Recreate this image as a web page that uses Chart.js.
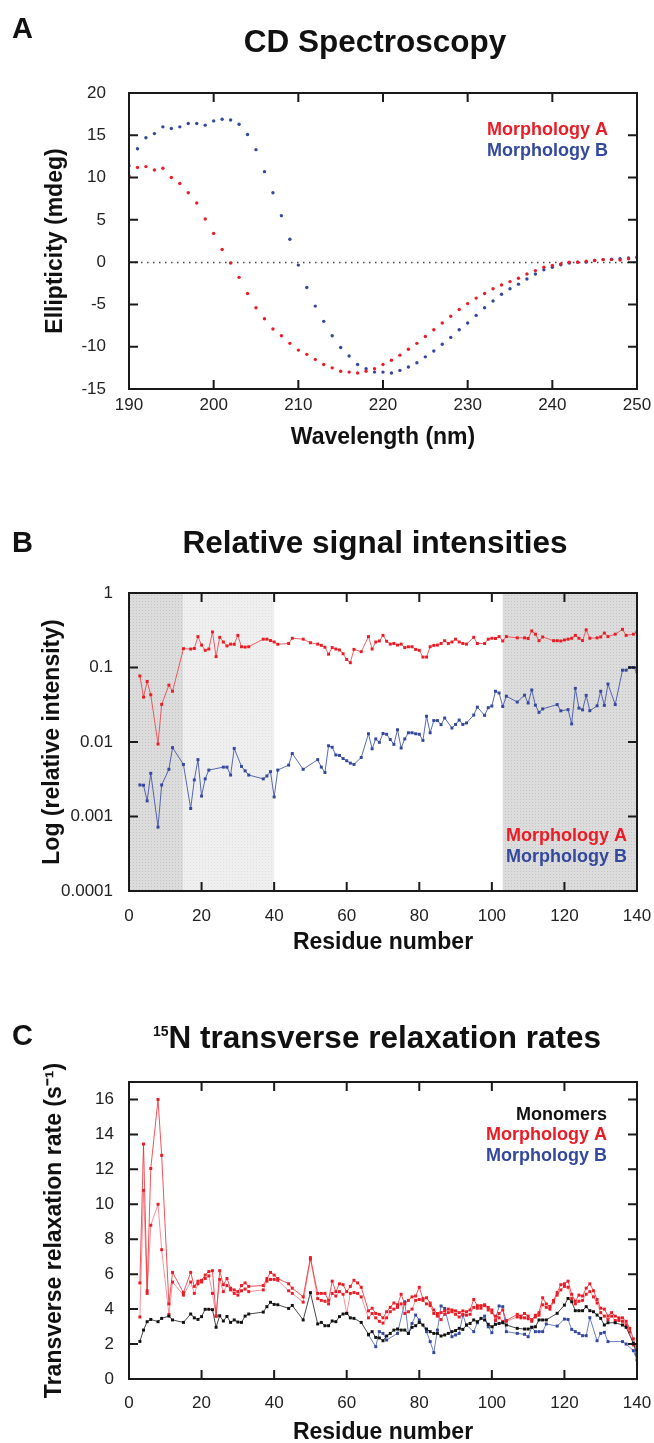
<!DOCTYPE html>
<html>
<head>
<meta charset="utf-8">
<script src="https://cdn.jsdelivr.net/npm/chart.js@4.4.0/dist/chart.umd.min.js"></script>
<style>
  html, body { margin: 0; padding: 0; background: #fff; overflow: hidden; }
  #page { position: relative; width: 654px; height: 1443px; overflow: hidden;
          font-family: "Liberation Sans", Arial, sans-serif; color: #111; }
  .panel { position: absolute; left: 0; }
  .letter { position: absolute; left: 12px; font-weight: bold; font-size: 29px; line-height: 1; }
  .title { position: absolute; left: 375px; transform: translateX(-50%); white-space: nowrap;
           font-weight: bold; font-size: 31.5px; line-height: 1; }
  .title .sup { position: relative; top: -12px; font-size: 14px; }
</style>
</head>
<body>
<div id="page">
  <canvas class="panel" id="cdChart" width="654" height="480" style="top:0"></canvas>
  <canvas class="panel" id="intChart" width="654" height="480" style="top:480px"></canvas>
  <canvas class="panel" id="r2Chart" width="654" height="490" style="top:960px"></canvas>

  <div class="letter" style="top:14px">A</div>
  <div class="title" style="top:26px">CD Spectroscopy</div>
  <div class="letter" style="top:528px">B</div>
  <div class="title" style="top:527px">Relative signal intensities</div>
  <div class="letter" style="top:1021px">C</div>
  <div class="title" style="top:1022px;left:377px"><span class="sup">15</span>N transverse relaxation rates</div>
</div>
<script>
//========== data: CD spectra ==========//
const cdWavelengths = [190, 191, 192, 193, 194, 195, 196, 197, 198, 199,
    200, 201, 202, 203, 204, 205, 206, 207, 208, 209,
    210, 211, 212, 213, 214, 215, 216, 217, 218, 219,
    220, 221, 222, 223, 224, 225, 226, 227, 228, 229,
    230, 231, 232, 233, 234, 235, 236, 237, 238, 239,
    240, 241, 242, 243, 244, 245, 246, 247, 248, 249, 250];
const cdMorphA = [10.2, 11.2, 11.3, 10.9, 11.1, 10.0, 9.3, 8.2, 7.0, 5.1,
    3.4, 1.5, -0.1, -1.8, -3.7, -5.4, -6.7, -7.9, -8.7, -9.6,
    -10.4, -10.9, -11.5, -12.1, -12.5, -12.9, -13.0, -13.1, -12.9, -12.6,
    -12.1, -11.6, -11.0, -10.3, -9.6, -8.8, -8.0, -7.2, -6.4, -5.6,
    -4.9, -4.25, -3.7, -3.15, -2.7, -2.3, -1.9, -1.4, -1.0, -0.6,
    -0.4, -0.2, 0.0, 0.0, 0.1, 0.2, 0.3, 0.3, 0.25, 0.4, 0.6];
const cdMorphB = [11.4, 13.4, 14.7, 15.2, 16.0, 15.8, 16.0, 16.4, 16.4, 16.2,
    16.7, 16.9, 16.8, 16.3, 15.1, 13.3, 10.7, 8.2, 5.5, 2.7,
    -0.35, -3.0, -5.2, -7.0, -8.7, -10.1, -11.1, -12.1, -12.6, -13.0,
    -13.0, -13.1, -12.8, -12.4, -11.9, -11.2, -10.5, -9.7, -8.9, -8.0,
    -7.2, -6.3, -5.4, -4.6, -3.8, -3.15, -2.6, -2.0, -1.4, -0.9,
    -0.6, -0.3, -0.1, 0.0, 0.0, 0.2, 0.3, 0.35, 0.4, 0.5, 0.55];
const cdZero = 0;

//========== data: relative intensities ==========//
const intResA = [3, 4, 5, 6, 8, 9, 11, 12,
    15, 17, 18, 19, 20, 21, 22, 23, 24, 25, 26, 27, 28, 29, 30, 31, 32, 33,
    37, 38, 39, 40, 41, 44, 45, 48, 50,
    52, 53, 54, 55, 56, 57, 58, 59, 60, 61, 62, 64,
    66, 67, 68, 69, 70, 71, 72, 73, 74, 75, 76, 77, 78, 79, 80,
    81, 82, 83, 84, 85, 86, 87, 88, 89, 90, 91, 92, 93, 95, 96,
    98, 99, 100, 101, 102, 103, 104, 107,
    109, 110, 111, 112, 113, 114,
    117, 118, 119, 120, 121, 122, 123, 124, 125, 126, 127,
    129, 130, 131, 132, 134, 136, 137, 139, 140];
const intValA = [0.077, 0.040, 0.065, 0.043, 0.0094, 0.032, 0.058, 0.048,
    0.179, 0.177, 0.18, 0.26, 0.20, 0.17, 0.177, 0.30, 0.14, 0.254, 0.22, 0.195, 0.206, 0.205, 0.27, 0.19, 0.188, 0.19,
    0.24, 0.24, 0.23, 0.22, 0.205, 0.21, 0.247, 0.24, 0.215,
    0.206, 0.198, 0.187, 0.151, 0.185, 0.177, 0.172, 0.153, 0.128, 0.116, 0.175, 0.163,
    0.26, 0.177, 0.22, 0.227, 0.27, 0.225, 0.206, 0.21, 0.2, 0.206, 0.185, 0.19, 0.19, 0.175, 0.17,
    0.138, 0.138, 0.19, 0.198, 0.2, 0.21, 0.229, 0.21, 0.22, 0.24, 0.22, 0.21, 0.206, 0.254, 0.21,
    0.21, 0.24, 0.247, 0.245, 0.26, 0.227, 0.26, 0.25,
    0.25, 0.245, 0.31, 0.28, 0.229, 0.257,
    0.229, 0.229, 0.227, 0.234, 0.24, 0.247, 0.27, 0.247, 0.23, 0.32, 0.247,
    0.25, 0.257, 0.29, 0.26, 0.28, 0.325, 0.27, 0.28, 0.30];
const intResB = [3, 4, 5, 6, 8, 9, 11, 12,
    15, 17, 18, 19, 20, 21, 22, 26, 27, 28, 29, 31, 32, 33,
    37, 38, 39, 40, 41, 44, 45, 48,
    52, 53, 54, 55, 56, 57, 58, 59, 60, 61, 62, 64,
    66, 67, 68, 69, 70, 71, 72, 73, 74, 75, 76, 77, 78, 79, 80,
    81, 82, 83, 84, 85, 86, 87, 89, 90, 91, 92, 93, 95, 96,
    98, 99, 100, 101, 102, 103, 104, 107,
    109, 110, 111, 112, 113, 114, 118, 119,
    121, 122, 123, 124, 125, 126, 127,
    129, 130, 131, 132, 134, 136, 137, 138, 139, 140];
const intValB = [0.00265, 0.00263, 0.00162, 0.0038, 0.00072, 0.00265, 0.0043, 0.0084,
    0.005, 0.00128, 0.0031, 0.0058, 0.00188, 0.0032, 0.0042, 0.0046, 0.0046, 0.0036, 0.0082, 0.0047, 0.0041, 0.0036,
    0.0032, 0.0035, 0.0040, 0.00183, 0.0042, 0.0049, 0.0070, 0.0043,
    0.0058, 0.0046, 0.0039, 0.0089, 0.0085, 0.0067, 0.0066, 0.0060, 0.0056, 0.0052, 0.0050, 0.0062,
    0.0129, 0.0081, 0.011, 0.0099, 0.013, 0.0127, 0.0108, 0.0093, 0.0146, 0.0083, 0.011, 0.0133, 0.0133, 0.0129, 0.0127,
    0.0105, 0.0222, 0.0133, 0.0194, 0.0194, 0.0171, 0.021, 0.0154, 0.0172, 0.0197, 0.0172, 0.0180, 0.023, 0.0294,
    0.0228, 0.0289, 0.0304, 0.048, 0.0455, 0.0300, 0.0412, 0.0344,
    0.0425, 0.0334, 0.0499, 0.0312, 0.025, 0.0278, 0.0318, 0.0262,
    0.0272, 0.0175, 0.0525, 0.0285, 0.0270, 0.0423, 0.0263,
    0.0306, 0.048, 0.0310, 0.060, 0.0318, 0.092, 0.092, 0.100, 0.100, 0.0875];
const shadeFrom = [0, 15, 103];
const shadeTo = [15, 40, 140];
const shadeTone = ['dark', 'light', 'dark'];
const logTicks = [0.0001, 0.001, 0.01, 0.1, 1];

//========== data: 15N R2 rates ==========//
const r2MonoRes = [3, 4, 5, 6, 8, 9, 11, 12,
    15, 17, 18, 19, 20, 21, 22, 23, 24, 25, 26, 27, 28, 29, 30, 31, 32, 33,
    37, 38, 39, 40, 41, 44, 45, 48, 50,
    52, 53, 54, 55, 56, 57, 58, 59, 60, 61, 62, 64,
    66, 67, 68, 69, 70, 71, 72, 73, 74, 75, 76, 77, 78, 79, 80, 81, 82, 83, 84, 85,
    86, 87, 88, 89, 90, 91, 92, 93, 94, 95, 96, 97, 98, 99, 100, 101, 102, 103, 104,
    107, 109, 110, 111, 112, 113, 114, 115, 118,
    120, 121, 122, 123, 124, 125, 126, 127, 128, 129, 130, 131, 132,
    134, 136, 137, 139, 140];
const r2MonoVal = [2.15, 2.8, 3.28, 3.41, 3.28, 3.47, 3.6, 3.38,
    3.24, 3.72, 3.5, 3.41, 3.57, 3.99, 3.99, 3.97, 2.96, 3.62, 3.32, 3.58, 3.24, 3.38, 3.26, 3.24, 3.6, 3.72,
    3.83, 4.14, 4.39, 4.27, 4.25, 4.04, 4.21, 3.38, 4.94,
    3.15, 3.24, 3.05, 3.05, 3.32, 3.28, 3.57, 3.72, 3.76, 3.5, 3.47, 3.24,
    2.56, 2.71, 2.38, 2.35, 2.19, 2.46, 2.61, 2.8, 2.86, 2.8, 2.8, 2.61, 2.96, 3.05, 3.24, 3.09, 2.86, 2.71, 2.61, 2.61,
    2.46, 2.52, 2.61, 2.71, 2.77, 2.9, 2.84, 3.09, 3.18, 3.38, 3.28, 3.47, 3.38, 3.13, 2.99, 3.13, 3.18, 3.22, 3.09,
    2.9, 2.86, 2.86, 2.96, 2.99, 3.38, 3.38, 3.38, 3.76,
    4.23, 4.61, 4.42, 3.91, 3.91, 3.91, 4.14, 3.91, 3.85, 3.66, 3.47, 3.09, 3.22,
    3.22, 3.09, 2.96, 2.05, 1.4];
const r2ARes = [3, 4, 5, 6, 8, 9, 11, 12,
    15, 17, 18, 19, 20, 21, 22, 23, 24, 25, 26, 27, 28, 29, 30, 31, 32, 33,
    37, 38, 39, 40, 41, 44, 45, 48, 50,
    52, 53, 54, 55, 56, 57, 58, 59, 60, 61, 62, 63, 64,
    66, 67, 68, 69, 70, 71, 72, 73, 74, 75, 76, 77, 78, 79, 80, 81, 82, 83, 84, 85,
    86, 87, 88, 89, 90, 91, 92, 93, 94, 95, 96, 97, 98, 99, 100, 101, 102, 103, 104,
    107, 108, 109, 110, 111, 112, 113, 114, 115, 116, 117, 118, 119, 120, 121, 122, 123,
    124, 125, 126, 127, 128, 129, 130, 131, 132, 133, 134, 135, 136, 137, 138, 139, 140];
const r2AVal1 = [5.5, 13.45, 5.05, 12.05, 16.0, 12.8, 4.3, 6.1,
    4.95, 6.1, 5.3, 5.6, 5.65, 5.95, 6.15, 6.2, 3.6, 6.2, 5.4, 5.75, 5.2, 5.1, 5.0, 5.35, 5.5, 5.3,
    5.35, 5.75, 6.1, 5.95, 5.75, 5.45, 5.2, 4.7, 6.95,
    4.9, 4.9, 4.9, 4.5, 5.6, 5.0, 5.45, 5.4, 5.0, 5.3, 5.65, 5.5, 5.25,
    3.9, 4.05, 3.75, 3.7, 3.5, 3.85, 4.1, 4.35, 4.25, 4.85, 4.3, 4.5, 4.7, 4.75, 5.25, 4.6, 4.65, 4.35, 3.95, 3.75,
    3.8, 3.9, 4.0, 3.95, 3.9, 3.8, 3.9, 3.85, 3.95, 4.55, 4.2, 4.2, 4.25, 4.1, 3.95, 3.35, 3.75, 3.95, 3.35,
    3.7, 3.6, 3.75, 3.6, 3.4, 3.65, 3.8, 4.65, 4.3, 4.15, 4.5, 4.95, 5.4, 5.45, 5.6, 4.85, 4.45,
    4.8, 4.75, 5.2, 5.45, 5.05, 4.55, 4.05, 4.0, 3.6, 3.8, 3.6, 3.5, 3.5, 3.3, 2.9, 2.3, 1.6];
const r2AVal2 = [3.55, 10.8, 4.9, 8.8, 10.0, 7.4, 3.7, 5.55,
    4.8, 5.55, 4.9, 5.45, 5.55, 5.75, 5.9, 4.9, 3.6, 5.7, 5.0, 5.35, 5.1, 4.9, 4.8, 5.05, 5.15, 5.0,
    5.1, 5.6, 5.7, 5.7, 5.65, 5.05, 4.9, 4.4, 6.85,
    4.6, 4.5, 4.45, 4.3, 4.9, 4.75, 5.0, 4.85, 3.75, 4.9, 4.95, 4.9, 4.7,
    3.5, 3.75, 3.5, 3.3, 3.2, 3.5, 3.85, 4.0, 4.1, 4.3, 3.75, 3.85, 4.0, 4.5, 4.55, 4.5, 4.3, 4.2, 3.75, 3.6,
    3.4, 3.7, 3.8, 3.85, 3.7, 3.55, 3.7, 3.65, 3.7, 4.1, 4.05, 4.05, 4.2, 3.95, 3.8, 3.6, 3.5, 3.3, 3.3,
    3.55, 3.5, 3.5, 3.45, 3.3, 3.55, 3.65, 4.25, 4.1, 4.0, 4.4, 4.8, 5.1, 5.3, 5.25, 4.6, 4.3,
    4.45, 4.5, 4.85, 5.0, 4.7, 4.35, 3.8, 3.6, 3.4, 3.6, 3.35, 3.35, 3.3, 3.1, 2.7, 1.95, 1.5];
const r2BRes = [66, 68, 69, 70, 71, 74, 76, 77, 78, 79, 80,
    82, 83, 84, 85, 86, 87, 89, 90, 91, 92, 93, 95, 96, 98, 99, 100,
    102, 103, 104, 107, 109, 110, 111, 112, 113, 114, 115, 118,
    120, 121, 122, 123, 124, 125, 126, 127, 129, 130, 131, 132, 136, 137, 139, 140];
const r2BVal = [2.52, 1.85, 2.71, 2.61, 2.23, 2.61, 4.42, 2.61, 3.18, 3.66, 3.38,
    2.71, 2.14, 1.51, 2.8, 4.18, 4.04, 2.42, 2.52, 2.61, 3.66, 3.09, 2.71, 3.22, 3.6, 2.99, 2.65,
    4.18, 4.14, 2.71, 2.61, 2.56, 2.42, 2.96, 2.71, 2.71, 2.71, 3.15, 3.03,
    3.43, 3.41, 2.84, 2.71, 2.61, 2.48, 2.48, 3.51, 2.19, 2.61, 2.67, 2.14, 2.14, 2.0, 1.62, 1.09];

//========== colours ==========//
const RED = '#ea1d27';
const BLUE = '#34489e';
const INK = '#111';
const FONT = '"Liberation Sans", Arial, sans-serif';

// helpers
const pts = (xs, ys) => xs.map((x, i) => ({x: x, y: ys[i]}));

function stipple(base, dot) {
    const c = document.createElement('canvas');
    c.width = 3; c.height = 3;
    const g = c.getContext('2d');
    g.fillStyle = base; g.fillRect(0, 0, 3, 3);
    g.fillStyle = dot; g.fillRect(1, 1, 1, 1);
    return c;
}
const tones = {
    dark: stipple('#dcdcdc', '#c3c3c3'),
    light: stipple('#efefef', '#e0e0e0')
};

// box, inward ticks, shaded bands, zero line, text legend
const frame = {
    id: 'frame',
    beforeDatasetsDraw(chart, args, opts) {
        const {ctx, chartArea: a, scales: {x, y}} = chart;
        ctx.save();
        (opts.bands || []).forEach(b => {
            const x0 = x.getPixelForValue(b.from), x1 = x.getPixelForValue(b.to);
            ctx.fillStyle = ctx.createPattern(tones[b.tone], 'repeat');
            ctx.fillRect(x0, a.top, x1 - x0, a.bottom - a.top);
        });
        if (opts.zeroLine !== undefined) {
            const py = Math.round(y.getPixelForValue(opts.zeroLine)) + 0.5;
            ctx.strokeStyle = '#444';
            ctx.lineWidth = 1.5;
            ctx.setLineDash([1.5, 4.5]);
            ctx.beginPath(); ctx.moveTo(a.left + 6, py); ctx.lineTo(a.right, py); ctx.stroke();
        }
        ctx.restore();
    },
    afterDatasetsDraw(chart, args, opts) {
        const {ctx, chartArea: a, scales: {x, y}} = chart;
        const T = 9;
        ctx.save();
        ctx.strokeStyle = '#1a1a1a';
        ctx.lineWidth = 2;
        ctx.beginPath();
        x.ticks.forEach(t => {
            const p = x.getPixelForValue(t.value);
            if (p <= a.left + 2 || p >= a.right - 2) return;
            ctx.moveTo(p, a.bottom); ctx.lineTo(p, a.bottom - T);
            ctx.moveTo(p, a.top); ctx.lineTo(p, a.top + T);
        });
        y.ticks.forEach(t => {
            const p = y.getPixelForValue(t.value);
            if (p <= a.top + 2 || p >= a.bottom - 2) return;
            ctx.moveTo(a.left, p); ctx.lineTo(a.left + T, p);
            ctx.moveTo(a.right, p); ctx.lineTo(a.right - T, p);
        });
        ctx.stroke();
        ctx.strokeRect(a.left, a.top, a.right - a.left, a.bottom - a.top);

        // legend as coloured text
        ctx.font = 'bold 18px ' + FONT;
        ctx.textAlign = 'right';
        ctx.textBaseline = 'middle';
        let yy = opts.legendTop;
        chart.data.datasets.forEach(ds => {
            if (ds.noLegend) return;
            ctx.fillStyle = ds.legendColor;
            ctx.fillText(ds.label, opts.legendRight, yy);
            yy += opts.legendStep;
        });
        ctx.restore();
    }
};

function axisX(o) {
    return {
        type: o.type || 'linear',
        min: o.min, max: o.max,
        grid: {display: false, drawTicks: false}, border: {display: false},
        ticks: {stepSize: o.step, padding: o.pad, color: '#222', font: {family: FONT, size: 17}, includeBounds: false, maxRotation: 0},
        title: {display: true, text: o.title, color: INK, font: {family: FONT, size: 23, weight: 'bold'}, padding: {top: 0, bottom: o.titlePad}},
        afterFit: s => { s.height = o.height; s.paddingLeft = 0; s.paddingRight = 0; }
    };
}
function axisY(o) {
    const ax = {
        type: o.type || 'linear',
        min: o.min, max: o.max,
        grid: {display: false, drawTicks: false}, border: {display: false},
        ticks: {stepSize: o.step, padding: o.pad, color: '#222', font: {family: FONT, size: 17}, includeBounds: false},
        title: {display: true, text: o.title, color: INK, font: {family: FONT, size: 23, weight: 'bold'}, padding: {top: o.titlePad, bottom: 0}},
        afterFit: s => { s.width = 129; s.paddingTop = 0; s.paddingBottom = 0; }
    };
    if (o.fixedTicks) {
        ax.afterBuildTicks = s => { s.ticks = o.fixedTicks.map(v => ({value: v})); };
        ax.ticks.callback = v => String(v);
    }
    return ax;
}
function baseOptions(o) {
    return {
        responsive: false,
        animation: false,
        devicePixelRatio: 1,
        layout: {padding: {top: o.top, right: 17, bottom: 0, left: 0}},
        plugins: {
            legend: {display: false},
            tooltip: {enabled: false},
            frame: o.frame
        },
        scales: {x: o.x, y: o.y}
    };
}

//========== A: CD spectroscopy ==========//
new Chart(document.getElementById('cdChart'), {
    type: 'scatter',
    data: {
        datasets: [{
            label: 'Morphology A', legendColor: RED,
            data: pts(cdWavelengths, cdMorphA),
            backgroundColor: RED, borderWidth: 0, pointRadius: 1.7, pointStyle: 'circle'
        }, {
            label: 'Morphology B', legendColor: BLUE,
            data: pts(cdWavelengths, cdMorphB),
            backgroundColor: BLUE, borderWidth: 0, pointRadius: 1.7, pointStyle: 'circle'
        }]
    },
    options: baseOptions({
        top: 93,
        frame: {zeroLine: cdZero, legendRight: 608, legendTop: 130, legendStep: 21},
        x: axisX({min: 190, max: 250, step: 10, pad: 6, title: 'Wavelength (nm)', titlePad: 29, height: 91}),
        y: axisY({min: -15, max: 20, step: 5, pad: 23, title: 'Ellipticity (mdeg)', titlePad: 42})
    }),
    plugins: [frame]
});

//========== B: relative signal intensities ==========//
new Chart(document.getElementById('intChart'), {
    type: 'line',
    data: {
        datasets: [{
            label: 'Morphology A', legendColor: RED,
            data: pts(intResA, intValA),
            borderColor: 'rgba(236,60,66,0.8)', borderWidth: 1,
            pointBackgroundColor: RED, pointBorderWidth: 0, pointRadius: 2.1, pointStyle: 'rect'
        }, {
            label: 'Morphology B', legendColor: BLUE,
            data: pts(intResB, intValB),
            borderColor: 'rgba(60,80,165,0.85)', borderWidth: 1,
            pointBackgroundColor: BLUE, pointBorderWidth: 0, pointRadius: 2.1, pointStyle: 'rect'
        }]
    },
    options: baseOptions({
        top: 113,
        frame: {
            bands: shadeFrom.map((f, i) => ({from: f, to: shadeTo[i], tone: shadeTone[i]})),
            legendRight: 627, legendTop: 356, legendStep: 21
        },
        x: axisX({min: 0, max: 140, step: 20, pad: 15, title: 'Residue number', titlePad: 4, height: 69}),
        y: axisY({type: 'logarithmic', min: 0.0001, max: 1, pad: 16, title: 'Log (relative intensity)', titlePad: 39, fixedTicks: logTicks})
    }),
    plugins: [frame]
});

//========== C: 15N transverse relaxation ==========//
new Chart(document.getElementById('r2Chart'), {
    type: 'line',
    data: {
        datasets: [{
            label: 'Monomers', legendColor: INK,
            data: pts(r2MonoRes, r2MonoVal),
            borderColor: 'rgba(40,40,40,0.85)', borderWidth: 1,
            pointBackgroundColor: INK, pointBorderWidth: 0, pointRadius: 2.1, pointStyle: 'rect'
        }, {
            label: 'Morphology A', legendColor: RED,
            data: pts(r2ARes, r2AVal1),
            borderColor: 'rgba(236,40,50,0.8)', borderWidth: 1,
            pointBackgroundColor: RED, pointBorderWidth: 0, pointRadius: 2.1, pointStyle: 'rect'
        }, {
            label: 'Morphology A', noLegend: true,
            data: pts(r2ARes, r2AVal2),
            borderColor: 'rgba(240,90,100,0.65)', borderWidth: 1,
            pointBackgroundColor: RED, pointBorderWidth: 0, pointRadius: 2.1, pointStyle: 'rect'
        }, {
            label: 'Morphology B', legendColor: BLUE,
            data: pts(r2BRes, r2BVal),
            borderColor: 'rgba(70,95,180,0.8)', borderWidth: 1,
            pointBackgroundColor: BLUE, pointBorderWidth: 0, pointRadius: 2.1, pointStyle: 'rect'
        }]
    },
    options: baseOptions({
        top: 122,
        frame: {legendRight: 607, legendTop: 155, legendStep: 20.5},
        x: axisX({min: 0, max: 140, step: 20, pad: 14, title: 'Residue number', titlePad: 4, height: 71}),
        y: axisY({min: 0, max: 17, step: 2, pad: 15, title: 'Transverse relaxation rate (s\u207B\u00B9)', titlePad: 41})
    }),
    plugins: [frame]
});
</script>
</body>
</html>
